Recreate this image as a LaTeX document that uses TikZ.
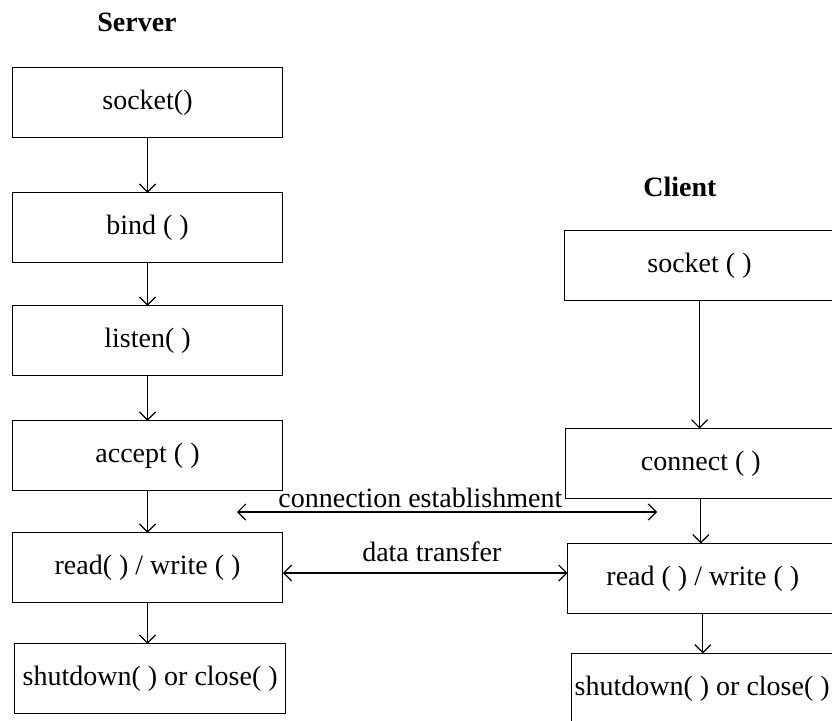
\documentclass[tikz,border=0pt]{standalone}
\usepackage{fontspec}
\setmainfont{Liberation Serif}
\usepackage{tikz}
\usetikzlibrary{arrows.meta, positioning}

\begin{document}
\begin{tikzpicture}[
    x=0.75pt, y=-0.75pt,
    box/.style={rectangle, draw, line width=0.9pt, minimum width=203pt, minimum height=52.5pt, text centered, inner sep=0pt, outer sep=0pt, font=\fontsize{21}{25}\selectfont},
    title/.style={font=\fontsize{21}{25}\selectfont\bfseries},
    lbl/.style={font=\fontsize{21}{25}\selectfont, inner sep=3pt},
    arrow/.style={-{Straight Barb[length=6pt, width=12pt]}, line width=0.9pt},
    twoway/.style={{Straight Barb[length=6pt, width=12pt]}-{Straight Barb[length=6pt, width=12pt]}, line width=0.9pt}
]
\clip (0,0) rectangle (832,721);

% server side
\node[title] (server) at (137,22) {Server};
\node[box] (ssock) at (147.5,102.5) {socket()};
\node[box, below=41.5pt of ssock] (sbind) {bind ( )};
\node[box, below=32.25pt of sbind] (slisten) {listen( )};
\node[box, below=33.75pt of slisten] (saccept) {accept ( )};
\node[box, below=31.5pt of saccept] (srw) {read( ) / write ( )};
\node[box, below=30.75pt of srw, xshift=2pt] (sclose) {shutdown( ) or close( )};

\draw[arrow] (ssock) -- (sbind);
\draw[arrow] (sbind) -- (slisten);
\draw[arrow] (slisten) -- (saccept);
\draw[arrow] (saccept) -- (srw);
\draw[arrow] (srw.south) -- (srw.south |- sclose.north);

% client side
\node[title] (client) at (680,187) {Client};
\node[box] (csock) at (699.5,265.5) {socket ( )};
\node[box, below=96pt of csock, xshift=1pt] (cconn) {connect ( )};
\node[box, below=33.75pt of cconn, xshift=1.5pt] (crw) {read ( ) / write ( )};
\node[box, minimum width=196pt, below=30pt of crw.south west, anchor=north west, xshift=3pt] (cclose) {shutdown( ) or close( )};

\draw[arrow] (csock.south) -- (csock.south |- cconn.north);
\draw[arrow] (cconn.south) -- (cconn.south |- crw.north);
\draw[arrow] (crw.south) -- (crw.south |- cclose.north);

% between the two
\coordinate (ceL) at (237,512);
\coordinate (ceR) at (657,512);
\coordinate (dt) at (0,573);
\draw[twoway] (ceL) -- node[lbl, above, xshift=-20pt] (connlbl) {connection establishment} (ceR);
\draw[twoway] (srw.east |- dt) -- node[lbl, above, xshift=5pt, yshift=5pt] (datalbl) {data transfer} (crw.west |- dt);
\end{tikzpicture}
\end{document}
